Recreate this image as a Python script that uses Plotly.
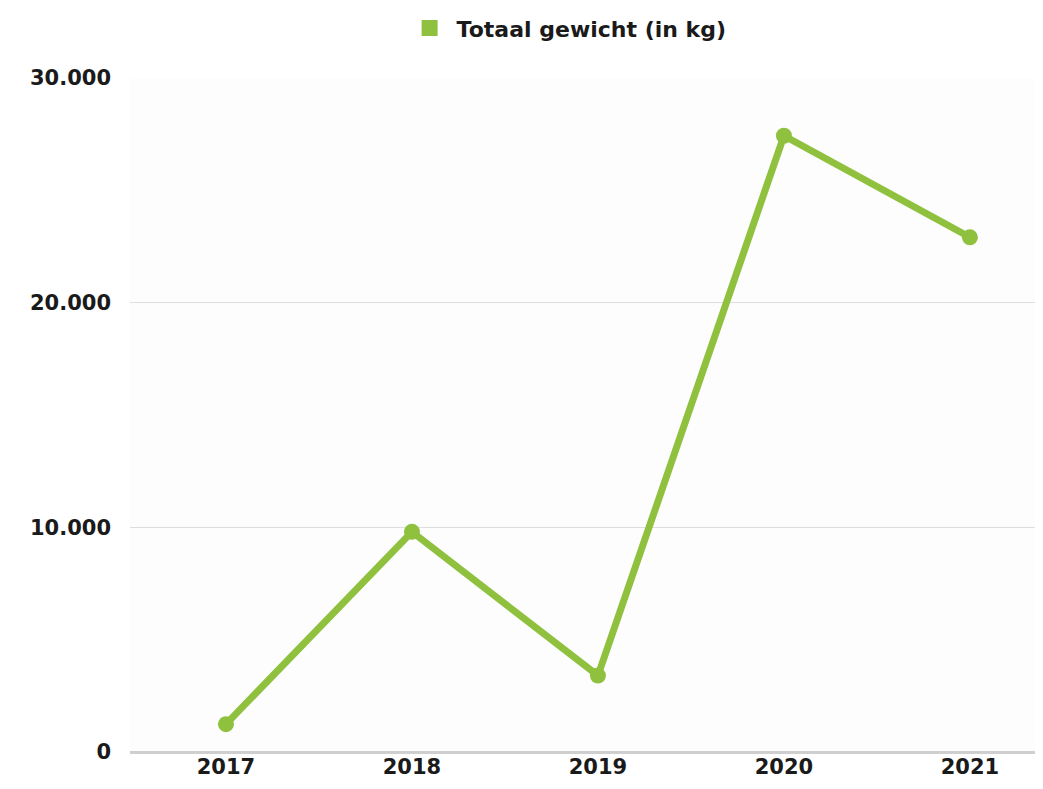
import plotly.graph_objects as go

years = ["2017", "2018", "2019", "2020", "2021"]
weights = [1240, 9800, 3400, 27430, 22910]
series_name = "Totaal gewicht (in kg)"
y_ticks = [0, 10000, 20000, 30000]
y_tick_labels = ["0", "10.000", "20.000", "30.000"]

green = "#8fc13e"
txt = dict(family="DejaVu Sans", size=21, color="#1a1a1a", weight="bold")

fig = go.Figure()
fig.add_trace(go.Scatter(
    x=years, y=weights, mode="lines+markers",
    line=dict(color=green, width=7),
    marker=dict(color=green, size=16),
    showlegend=False, cliponaxis=False,
))
fig.add_trace(go.Scatter(
    x=[None], y=[None], mode="markers", name=series_name,
    marker=dict(color=green, size=19, symbol="square"),
    showlegend=True,
))

fig.update_layout(
    width=1027, height=773,
    margin=dict(l=122, r=0, t=70, b=29, autoexpand=False),
    paper_bgcolor="white",
    plot_bgcolor="#fdfdfd",
    font=txt,
    legend=dict(
        orientation="h", x=0.483, xanchor="center", y=1.074, yanchor="middle",
        font=dict(family="DejaVu Sans", size=22, color="#1a1a1a", weight="bold"),
        bgcolor="rgba(0,0,0,0)", itemwidth=44,
    ),
    xaxis=dict(
        type="category", range=[-0.516, 4.35], automargin=False,
        showgrid=False, zeroline=False, showline=False,
        ticks="", tickfont=txt, ticklabelstandoff=0,
    ),
    yaxis=dict(
        range=[0, 30000], tickvals=y_ticks, ticktext=y_tick_labels,
        automargin=False,
        showgrid=True, gridcolor="#dedede", gridwidth=1,
        zeroline=True, zerolinecolor="#cfcfcf", zerolinewidth=3,
        showline=False, ticks="", tickfont=txt, ticklabelstandoff=18,
    ),
)

fig.write_html("out.html")
